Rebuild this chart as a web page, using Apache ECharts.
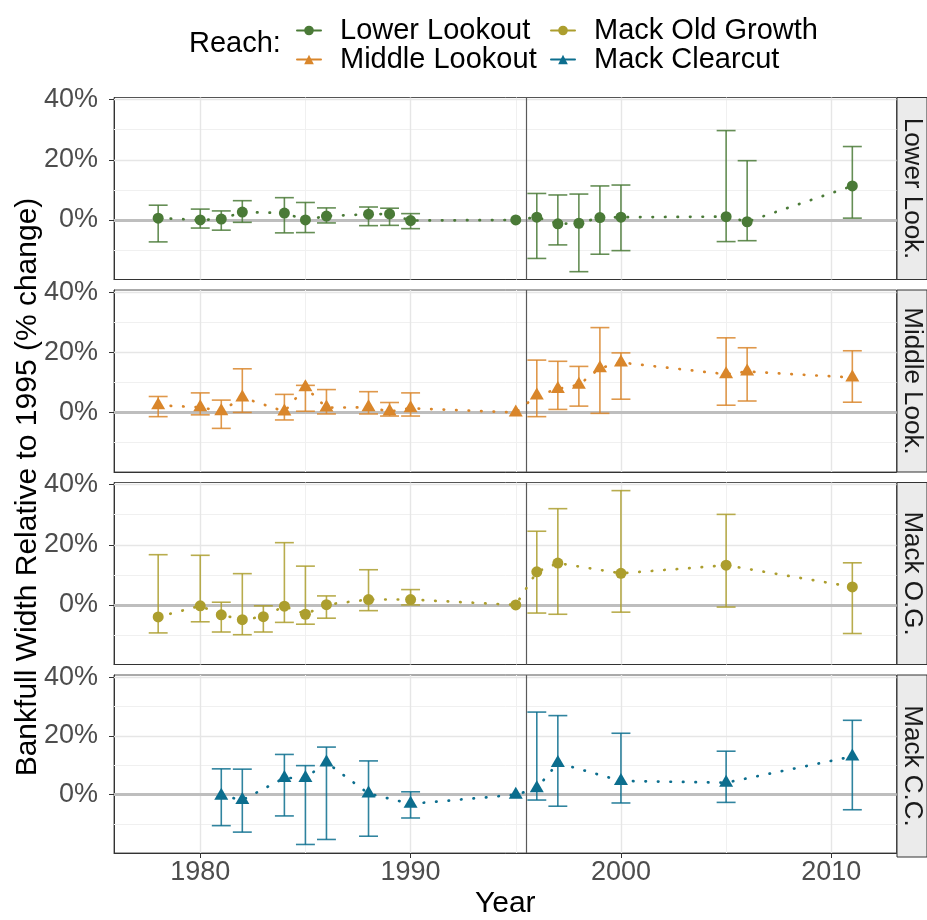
<!DOCTYPE html>
<html><head><meta charset="utf-8">
<script src="https://cdn.jsdelivr.net/npm/echarts@6/dist/echarts.min.js"></script>
<style>html,body{margin:0;padding:0;background:#fff}#c{width:927px;height:920px}</style>
</head><body><div id="c"></div>
<script>
// ---- data ----
const reaches = ['Lower Lookout', 'Middle Lookout', 'Mack Old Growth', 'Mack Clearcut'];
const stripLabels = ['Lower Look.', 'Middle Look.', 'Mack O.G.', 'Mack C.C.'];

const llYears = [1978,1980,1981,1982,1984,1985,1986,1988,1989,1990,1995,1996,1997,1998,1999,2000,2005,2006,2011];
const llMean  = [0.6,0,0.3,2.6,2.3,0,1.3,1.9,2.0,-0.2,0,0.9,-1.3,-1.1,0.8,0.9,1.1,-0.6,11.3];
const llLow   = [-7.3,-2.7,-3.4,-0.8,-4.3,-4.2,-1.0,-1.9,-1.8,-2.9,null,-12.8,-8.3,-17.2,-11.4,-10.2,-7.2,-6.9,0.6];
const llHigh  = [4.9,3.6,3.0,6.4,7.4,5.8,4.0,4.3,3.9,2.1,null,8.8,8.3,8.6,11.3,11.6,29.7,19.7,24.4];

const mlYears = [1978,1980,1981,1982,1984,1985,1986,1988,1989,1990,1995,1996,1997,1998,1999,2000,2005,2006,2011];
const mlMean  = [2.4,1.7,0.4,5.0,0.3,8.4,1.6,1.7,0.3,1.4,0,5.6,7.8,9.2,14.7,16.6,12.7,13.6,11.6];
const mlLow   = [-1.4,-0.8,-5.3,0,-2.5,0.4,-0.5,-0.5,-1.2,-1.2,null,-1.4,1.0,2.1,-0.3,4.4,2.4,3.8,3.4];
const mlHigh  = [5.3,6.5,4.1,14.5,6.0,9.0,7.6,6.9,3.3,6.5,null,17.4,17.0,15.3,28.2,19.8,24.8,21.5,20.5];

const mogYears = [1978,1980,1981,1982,1983,1984,1985,1986,1988,1990,1995,1996,1997,2000,2005,2011];
const mogMean  = [-4.0,-0.3,-3.3,-4.9,-3.9,-0.4,-3.1,0.1,1.8,1.8,0,11.0,13.9,10.5,13.2,6.0];
const mogLow   = [-9.3,-5.6,-9.0,-9.9,-9.0,-5.8,-6.4,-4.4,-1.9,0,null,-2.7,-3.1,-2.4,-0.7,-9.5];
const mogHigh  = [16.7,16.5,0.9,10.4,-0.3,20.7,12.9,3.0,11.7,5.1,null,24.5,32.0,38.0,30.1,14.0];

const mccYears = [1981,1982,1984,1985,1986,1988,1990,1995,1996,1997,2000,2005,2011];
const mccMean  = [-0.3,-1.8,5.7,5.7,11.0,0.4,-3.1,0,2.2,10.8,4.7,4.1,13.0];
const mccLow   = [-10.5,-12.7,-7.2,-16.9,-15.2,-14.1,-7.9,null,-1.8,-3.9,-2.8,-2.6,-5.1];
const mccHigh  = [8.8,8.7,13.7,9.9,16.2,11.5,1.0,null,28.1,26.9,20.9,14.8,25.3];

const xMajor = [1980, 1990, 2000, 2010];
const xMinor = [1985, 1995, 2005];
const yMajor = [0, 20, 40];
const yMinor = [-10, 10, 30];
const referenceYear = 1995.5;

// ---- styling ----
const colors = ['#4A7A37', '#D9862B', '#AC9E2E', '#0C6E8E'];
const shapes = ['circle', 'triangle', 'circle', 'triangle'];
const FONT = '"Liberation Sans", Arial, sans-serif';
const panelTop = [97.5, 290, 482.5, 675];
const panelH = 182;
const plotLeft = 114, plotRight = 896.5;

const panels = [
  [llYears, llMean, llLow, llHigh],
  [mlYears, mlMean, mlLow, mlHigh],
  [mogYears, mogMean, mogLow, mogHigh],
  [mccYears, mccMean, mccLow, mccHigh]
];

const capHalf = 0.45;
function makeErrRender(color) {
  return function (params, api) {
    const x = api.value(0), lo = api.value(1), hi = api.value(2);
    const pLo = api.coord([x, lo]), pHi = api.coord([x, hi]);
    const a = api.coord([x - capHalf, lo])[0], b = api.coord([x + capHalf, lo])[0];
    const style = { stroke: color, lineWidth: 1.6, opacity: 0.85 };
    return { type: 'group', children: [
      { type: 'line', shape: { x1: pLo[0], y1: pLo[1], x2: pHi[0], y2: pHi[1] }, style },
      { type: 'line', shape: { x1: a, y1: pLo[1], x2: b, y2: pLo[1] }, style },
      { type: 'line', shape: { x1: a, y1: pHi[1], x2: b, y2: pHi[1] }, style }
    ]};
  };
}

const grid = [], xAxis = [], yAxis = [], series = [], graphic = [];
panels.forEach((p, i) => {
  const [yrs, mean, low, high] = p;
  grid.push({ left: plotLeft, width: plotRight - plotLeft, top: panelTop[i], height: panelH,
    show: true, borderColor: '#555', borderWidth: 1 });
  xAxis.push({ gridIndex: i, type: 'value', min: 1975.9, max: 2013.1,
    splitLine: { show: false },
    axisLine: { show: true, onZero: false, lineStyle: { color: '#333', width: 1 } },
    axisTick: { show: i === 3, length: 5, lineStyle: { color: '#333' }, customValues: xMajor },
    axisLabel: { show: i === 3, customValues: xMajor, fontSize: 27, color: '#4D4D4D', margin: 6, fontFamily: FONT,
      formatter: v => (xMajor.indexOf(v) >= 0 ? String(v) : '') },
    name: i === 3 ? 'Year' : '', nameLocation: 'middle', nameGap: 36,
    nameTextStyle: { fontSize: 30, color: '#000', fontFamily: FONT } });
  yAxis.push({ gridIndex: i, type: 'value', min: -19.8, max: 40.7,
    splitLine: { show: false },
    axisLine: { show: true, onZero: false, lineStyle: { color: '#333', width: 1 } },
    axisTick: { show: true, length: 5, lineStyle: { color: '#333' }, customValues: yMajor },
    axisLabel: { customValues: yMajor, fontSize: 27, color: '#4D4D4D', margin: 16, fontFamily: FONT,
      formatter: v => (yMajor.indexOf(v) >= 0 ? v + '%' : '') } });

  const ml = [];
  xMinor.forEach(v => ml.push({ xAxis: v, lineStyle: { color: '#F0F0F0', width: 1, type: 'solid' } }));
  yMinor.forEach(v => ml.push({ yAxis: v, lineStyle: { color: '#F0F0F0', width: 1, type: 'solid' } }));
  xMajor.forEach(v => ml.push({ xAxis: v, lineStyle: { color: '#E6E6E6', width: 1.4, type: 'solid' } }));
  yMajor.forEach(v => ml.push({ yAxis: v, lineStyle: { color: '#E6E6E6', width: 1.4, type: 'solid' } }));
  ml.push({ yAxis: 0, lineStyle: { color: '#BEBEBE', width: 3, type: 'solid' } });
  ml.push({ xAxis: referenceYear, lineStyle: { color: '#5A5A5A', width: 1.2, type: 'solid' } });
  series.push({ type: 'line', xAxisIndex: i, yAxisIndex: i, data: [], z: 1, silent: true,
    markLine: { z: 1, zlevel: 0, symbol: 'none', silent: true, animation: false, label: { show: false }, data: ml } });

  const errData = [];
  yrs.forEach((y, k) => { if (low[k] !== null && high[k] !== null) errData.push([y, low[k], high[k]]); });
  series.push({ type: 'custom', name: 'err' + i, xAxisIndex: i, yAxisIndex: i, z: 2,
    renderItem: makeErrRender(colors[i]), data: errData, silent: true, animation: false });

  series.push({ type: 'line', name: reaches[i], xAxisIndex: i, yAxisIndex: i, z: 3,
    data: yrs.map((y, k) => [y, mean[k]]),
    symbol: shapes[i], symbolSize: shapes[i] === 'circle' ? 11 : [14, 12],
    symbolOffset: shapes[i] === 'circle' ? [0, 0] : [0, -2],
    itemStyle: { color: colors[i] },
    lineStyle: { color: colors[i], width: 2.7, type: [0.5, 12], cap: 'round' },
    animation: false });

  graphic.push({ type: 'rect', shape: { x: 897, y: panelTop[i], width: 30, height: panelH },
    style: { fill: '#EBEBEB', stroke: '#333', lineWidth: 1 } });
  graphic.push({ type: 'text', x: 912, y: panelTop[i] + panelH / 2, rotation: -Math.PI / 2,
    style: { text: stripLabels[i], fontSize: 26, fontFamily: FONT, fill: '#1A1A1A', align: 'center', verticalAlign: 'middle' } });
});

graphic.push({ type: 'text', x: 28, y: 487, rotation: Math.PI / 2,
  style: { text: 'Bankfull Width Relative to 1995 (% change)', fontSize: 30, fontFamily: FONT, fill: '#000', align: 'center', verticalAlign: 'middle' } });
graphic.push({ type: 'text', x: 189, y: 44,
  style: { text: 'Reach:', fontSize: 29, fontFamily: FONT, fill: '#000', align: 'left', verticalAlign: 'middle' } });

const legendBase = { orient: 'vertical', top: 16, itemWidth: 24, itemHeight: 12, itemGap: 0, padding: 0,
  lineStyle: { type: 'solid', width: 2 },
  textStyle: { fontSize: 29, lineHeight: 27, color: '#000', fontFamily: FONT, padding: [0, 0, 0, 14] } };

const option = {
  backgroundColor: '#fff',
  animation: false,
  legend: [
    Object.assign({}, legendBase, { left: 296, data: [reaches[0], reaches[1]] }),
    Object.assign({}, legendBase, { left: 550, data: [reaches[2], reaches[3]] })
  ],
  grid, xAxis, yAxis, series, graphic
};
const chart = echarts.init(document.getElementById('c'), null, { renderer: 'canvas' });
chart.setOption(option);
</script></body></html>
